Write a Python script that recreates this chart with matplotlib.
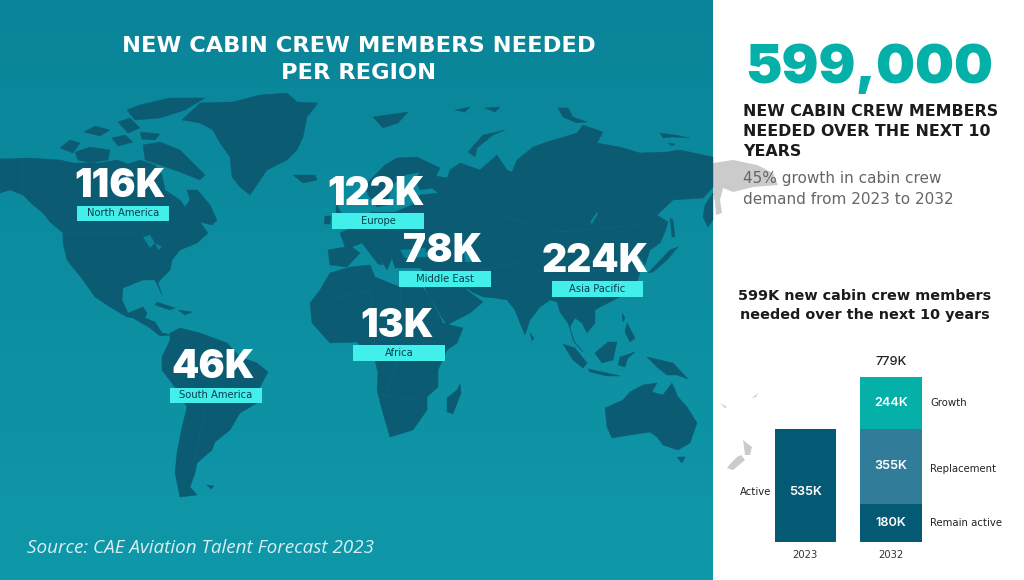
import matplotlib
matplotlib.use("Agg")
import matplotlib.pyplot as plt
import numpy as np
from matplotlib.patches import Polygon, Rectangle

# regional forecast
regions = ["North America", "Europe", "Middle East", "Asia Pacific", "Africa", "South America"]
region_values = ["116K", "122K", "78K", "224K", "13K", "46K"]

# stacked bars
years = ["2023", "2032"]
active_2023 = [535, 0]
remain_active = [0, 180]
replacement = [0, 355]
growth = [0, 244]
total_2032 = 779

TEAL_TOP = "#0a8498"
TEAL_BOTTOM = "#0f98a9"
LAND = "#0b5b73"
BORDER = "#146479"
CYAN = "#43efea"
GREY = "#cbcbcb"
FONT = "Inter"
WIDE = "DejaVu Sans"

# where each region's number and tag sit (left, right, top, bottom of the tag; baseline of number)
tag_boxes = [(77, 169, 206, 221), (332, 424, 213, 229), (399, 491, 271, 287),
             (552, 643, 281, 297), (353, 445, 345, 361), (170, 262, 388, 403)]
number_spots = [(120, 197), (376, 205), (443, 262), (595, 272), (397, 337), (213, 378)]

# map outlines traced by eye, in pixels of the picture
land_shapes = [
    # north america
    [(0,159),(30,158),(60,160),(73,163),(100,163),(117,160),(128,164),(140,160),(155,165),(162,175),(165,190),
     (180,200),(185,207),(190,200),(187,190),(197,190),(200,193),(210,205),(217,220),(212,225),(200,222),(208,233),
     (197,243),(180,250),(172,260),(170,270),(160,280),(158,283),(162,295),(155,280),(143,280),(123,288),
     (122,300),(128,313),(143,307),(147,313),(145,318),(155,322),(162,333),(172,335),(160,336),(150,328),
     (133,318),(127,317),(110,307),(95,297),(83,280),(67,260),(63,243),(63,233),(50,222),(43,213),(33,205),(23,195),(10,190),(0,193)],
    # arctic canada
    [(75,152),(90,147),(110,150),(108,160),(90,163),(78,160)],
    [(60,148),(70,140),(80,143),(73,153)],
    [(143,145),(160,142),(180,150),(205,175),(200,180),(180,172),(160,165),(145,160)],
    [(127,110),(140,105),(170,98),(205,98),(185,110),(160,118),(135,120)],
    [(84,132),(95,126),(110,130),(100,136)],
    [(112,138),(125,135),(133,142),(118,146)],
    [(118,122),(130,118),(140,128),(128,133)],
    [(140,132),(160,134),(155,140),(142,139)],
    # greenland, iceland
    [(182,120),(200,103),(233,102),(260,95),(287,93),(297,102),(318,103),(307,117),(303,137),(297,150),
     (287,160),(267,170),(250,195),(240,187),(232,177),(230,157),(220,143),(213,130),(200,123)],
    [(293,175),(315,175),(317,180),(303,183)],
    # caribbean
    [(157,302),(175,308),(170,310),(155,305)],
    [(178,310),(192,312),(185,315)],
    # south america
    [(170,333),(180,328),(200,333),(227,343),(240,357),(257,363),(268,372),(260,387),(257,403),(240,413),
     (230,430),(220,438),(215,442),(212,450),(197,463),(195,473),(190,487),(197,495),(180,497),(175,473),
     (177,453),(182,427),(187,407),(177,390),(162,370),(162,357),(170,340)],
    [(207,485),(214,486),(211,489)],
    # africa
    [(310,303),(320,290),(330,273),(350,267),(370,265),(375,277),(387,282),(400,287),(423,288),(433,303),
     (443,323),(463,328),(457,343),(447,350),(438,370),(438,387),(427,397),(427,410),(413,430),(390,437),
     (382,410),(377,390),(378,373),(375,360),(357,342),(330,343),(312,323)],
    [(460,384),(461,393),(453,414),(447,412),(447,398),(457,390)],
    # eurasia
    [(340,233),(353,227),(358,218),(372,212),(395,212),(412,205),(420,195),(438,193),(432,188),(420,190),
     (415,180),(420,172),(405,175),(392,185),(387,205),(377,207),(368,195),(365,185),(385,165),(397,158),
     (417,157),(440,168),(436,176),(447,178),(450,170),(460,163),(480,170),(497,155),(507,170),(512,172),
     (517,160),(533,147),(547,142),(577,133),(583,125),(603,132),(597,143),(620,147),(640,153),(667,152),
     (680,150),(713,157),(713,187),(703,198),(673,200),(657,215),(668,222),(665,232),(660,243),
     (650,250),(645,265),(638,255),(632,262),(640,272),(637,283),(630,292),(620,297),(600,307),(595,310),
     (595,323),(587,333),(582,323),(575,318),(570,327),(573,340),(583,352),(575,343),(568,323),(560,312),
     (557,302),(550,300),(540,307),(530,320),(525,335),(520,323),(515,310),(507,300),(495,298),(483,297),
     (472,292),(465,287),(468,291),(483,302),(470,313),(447,325),(440,315),(435,305),(425,290),(426,275),
     (420,268),(395,268),(392,258),(387,270),(380,258),(372,243),(383,265),(378,264),(362,243),(352,247),
     (360,253),(347,267),(330,265),(328,250),(345,247)],
    # britain, ireland
    [(336,203),(342,215),(345,223),(333,226),(336,215)],
    [(325,216),(331,216),(330,224),(324,224)],
    # arctic islands
    [(468,152),(483,135),(505,130),(493,135),(477,148),(475,157)],
    [(373,117),(408,112),(398,123),(383,128)],
    [(455,110),(470,107),(465,112)],
    [(485,108),(500,107),(495,112)],
    [(558,108),(568,108),(573,117),(587,122),(577,123),(563,117)],
    [(660,133),(675,135),(690,138),(673,137),(663,138)],
    [(668,143),(675,144),(672,146)],
    # kamchatka tip, sakhalin, japan
    [(713,193),(705,205),(703,217),(708,227),(713,220)],
    [(670,218),(673,220),(675,237),(672,237)],
    [(670,250),(678,247),(667,260),(653,272),(648,273)],
    # south east asia
    [(563,344),(575,348),(587,363),(583,368),(573,360)],
    [(588,369),(607,373),(620,376),(607,376),(590,372)],
    [(595,353),(608,342),(617,342),(613,360),(602,363)],
    [(620,357),(635,352),(628,358),(625,367),(618,365)],
    [(622,313),(625,318),(623,322)],
    [(627,323),(635,338),(630,342),(625,332)],
    [(647,357),(660,360),(673,363),(688,379),(677,375),(667,375),(657,367)],
    [(530,333),(534,338),(532,341)],
    # australia, tasmania
    [(605,408),(623,400),(630,392),(643,385),(657,383),(652,392),(663,395),(672,383),(678,397),(687,407),
     (697,423),(690,443),(678,450),(663,445),(657,437),(650,432),(630,435),(612,438),(607,427)],
    [(677,457),(685,457),(682,463)],
]

# inland water shown in the sea colour
water_shapes = [
    [(143,237),(150,235),(155,243),(150,248)],
    [(155,243),(162,247),(158,250)],
    [(400,250),(425,248),(428,257),(405,258)],
    [(463,243),(470,245),(472,262),(465,262)],
    [(590,222),(597,212),(598,214),(592,224)],
]

# parts of the map running on under the white panel
grey_shapes = [
    [(713,163),(733,160),(757,165),(773,173),(778,185),(753,187),(733,192),(723,188),(720,200),(722,213),(716,215),(715,202),(713,193)],
    [(727,468),(731,463),(737,457),(741,455),(745,460),(733,470)],
    [(743,440),(752,447),(750,455),(745,455)],
    [(720,403),(727,407),(725,408)],
    [(752,398),(758,393),(756,397)],
]

border_lines = [
    [(63,233),(133,233)], [(22,160),(22,192)],
    [(330,300),(370,290),(375,345)], [(400,290),(405,340),(385,395)], [(380,395),(420,400)],
    [(480,270),(520,262),(560,280),(600,270)], [(500,215),(560,232),(640,225)],
    [(195,365),(235,400)], [(205,410),(195,460)],
]

fig = plt.figure(figsize=(10.24, 5.8), dpi=100, facecolor="white")

# whole canvas in picture pixels
bg = fig.add_axes([0, 0, 1, 1])
bg.axis("off")

shade = np.linspace(0, 1, 256).reshape(-1, 1)
top = np.array(matplotlib.colors.to_rgb(TEAL_TOP))
bottom = np.array(matplotlib.colors.to_rgb(TEAL_BOTTOM))
bg.imshow(top + shade[..., None] * (bottom - top), extent=(0, 713, 580, 0), aspect="auto", zorder=0)
bg.set_xlim(0, 1024)
bg.set_ylim(580, 0)

for shape in grey_shapes:
    bg.add_patch(Polygon(shape, closed=True, fc=GREY, ec="none", zorder=1))
for shape in land_shapes:
    bg.add_patch(Polygon(shape, closed=True, fc=LAND, ec=LAND, lw=0.3, zorder=1))
for shape in water_shapes:
    bg.add_patch(Polygon(shape, closed=True, fc=TEAL_TOP, ec="none", zorder=2))
for line in border_lines:
    xs, ys = zip(*line)
    bg.plot(xs, ys, color=BORDER, lw=0.4, zorder=2)

bg.text(359, 46, "NEW CABIN CREW MEMBERS NEEDED", color="white", fontsize=16.2, family=WIDE,
        weight="bold", ha="center", va="center")
bg.text(359, 73, "PER REGION", color="white", fontsize=16.2, family=WIDE,
        weight="bold", ha="center", va="center")

for region, value, box, spot in zip(regions, region_values, tag_boxes, number_spots):
    left, right, tag_top, tag_bottom = box
    bg.add_patch(Rectangle((left, tag_top), right - left, tag_bottom - tag_top, fc=CYAN, ec="none", zorder=3))
    bg.text((left + right) / 2, (tag_top + tag_bottom) / 2, region, color="#0b3d4c", fontsize=7.2,
            family=WIDE, ha="center", va="center", zorder=4)
    bg.text(spot[0], spot[1], value, color="white", fontsize=28, family=FONT, weight="black",
            ha="center", va="baseline", zorder=4)

bg.text(27, 548, "Source: CAE Aviation Talent Forecast 2023", color="#d8eef2", fontsize=13.6,
        family="Open Sans", style="italic", ha="left", va="center", zorder=4)

# right panel
bg.text(869, 83, "599,000", color="#04b0a8", fontsize=39.5, family=FONT, weight="black",
        ha="center", va="baseline", zorder=4)
for y, line in zip([112, 132, 152], ["NEW CABIN CREW MEMBERS", "NEEDED OVER THE NEXT 10", "YEARS"]):
    bg.text(743, y, line, color="#1b1b1b", fontsize=11.4, family=WIDE, weight="bold",
            ha="left", va="center", zorder=4)
for y, line in zip([179, 199], ["45% growth in cabin crew", "demand from 2023 to 2032"]):
    bg.text(743, y, line, color="#666666", fontsize=11, family=WIDE,
            ha="left", va="center", zorder=4)
for y, line in zip([296, 315], ["599K new cabin crew members", "needed over the next 10 years"]):
    bg.text(865, y, line, color="#1b1b1b", fontsize=10.4, family=WIDE, weight="bold",
            ha="center", va="center", zorder=4)

# bars get their own axes, y runs from 0 to the 2032 total
chart = fig.add_axes([762.3 / 1024, (580 - 542) / 580, 171.6 / 1024, 165 / 580])
chart.patch.set_alpha(0)
x = np.arange(len(years))
bottoms = np.zeros(2)
for values, color in zip([active_2023, remain_active, replacement, growth],
                         ["#045a75", "#045a75", "#317c99", "#04b0a8"]):
    chart.bar(x, values, width=0.711, bottom=bottoms, color=color)
    bottoms += np.array(values)
chart.set_xlim(-0.5, 1.5)
chart.set_ylim(0, total_2032)
chart.set_xticks(x, years, fontsize=7.2, family=WIDE, color="#333333")
chart.set_yticks([])
chart.tick_params(axis="x", length=0, pad=6)
for spine in chart.spines.values():
    spine.set_visible(False)

value_style = dict(color="white", fontsize=9.2, family=FONT, weight="semibold", ha="center", va="center")
chart.text(0, active_2023[0] / 2 - 30, f"{active_2023[0]}K", **value_style)
chart.text(1, remain_active[1] / 2, f"{remain_active[1]}K", **value_style)
chart.text(1, remain_active[1] + replacement[1] / 2, f"{replacement[1]}K", **value_style)
chart.text(1, remain_active[1] + replacement[1] + growth[1] / 2, f"{growth[1]}K", **value_style)
chart.text(1, total_2032 + 70, f"{total_2032}K", color="#222222", fontsize=9.2, family=FONT,
           weight="medium", ha="center", va="center")

note_style = dict(color="#222222", fontsize=7.3, family=WIDE, va="center", clip_on=False)
chart.text(1.46, remain_active[1] / 2, "Remain active", ha="left", **note_style)
chart.text(1.46, remain_active[1] + replacement[1] / 2 - 15, "Replacement", ha="left", **note_style)
chart.text(1.46, remain_active[1] + replacement[1] + growth[1] / 2, "Growth", ha="left", **note_style)
chart.text(-0.39, active_2023[0] / 2 - 30, "Active", ha="right", **note_style)

fig.savefig("out.png", dpi=100)
